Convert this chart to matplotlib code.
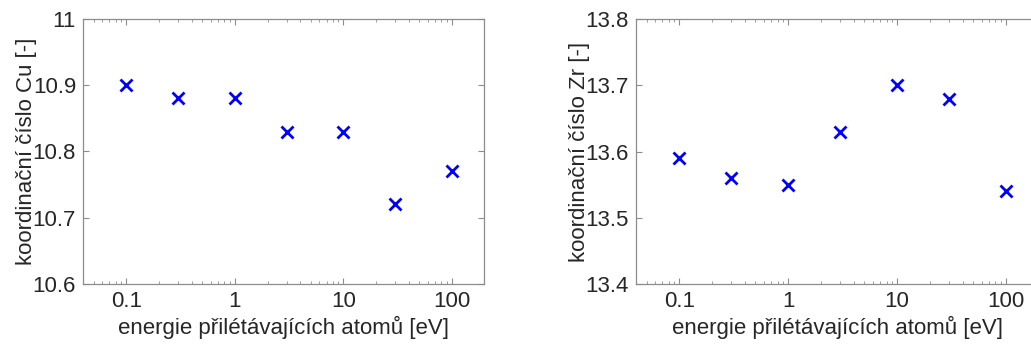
import matplotlib
matplotlib.use("Agg")
import matplotlib.pyplot as plt
from matplotlib.ticker import FixedLocator, FixedFormatter, LogLocator, NullFormatter

plt.rcParams['font.family'] = ['Liberation Sans', 'DejaVu Sans']

energy = [0.1, 0.3, 1, 3, 10, 30, 100]
cn_cu = [10.90, 10.88, 10.88, 10.83, 10.83, 10.72, 10.77]
cn_zr = [13.59, 13.56, 13.55, 13.63, 13.70, 13.68, 13.54]

xticks = [0.1, 1, 10, 100]
xticklabels = ['0.1', '1', '10', '100']
cu_yticks = [10.6, 10.7, 10.8, 10.9, 11.0]
cu_yticklabels = ['10.6', '10.7', '10.8', '10.9', '11']
zr_yticks = [13.4, 13.5, 13.6, 13.7, 13.8]
zr_yticklabels = ['13.4', '13.5', '13.6', '13.7', '13.8']

xlabel = 'energie přilétávajících atomů [eV]'
ylabels = ['koordinační číslo Cu [-]', 'koordinační číslo Zr [-]']

fig = plt.figure(figsize=(10.31, 3.45), dpi=100)
W, H = 1031, 345
ax1 = fig.add_axes([83 / W, (345 - 284) / H, 401 / W, 265 / H])
ax2 = fig.add_axes([636 / W, (345 - 284) / H, 402 / W, 265 / H])

tickcol = '#262626'
spinecol = '#8c8c8c'

for ax, y, yt, ytl, yl in [(ax1, cn_cu, cu_yticks, cu_yticklabels, ylabels[0]),
                           (ax2, cn_zr, zr_yticks, zr_yticklabels, ylabels[1])]:
    ax.plot(energy, y, linestyle='none', marker='x', color='#0000ff',
            markersize=9, markeredgewidth=2)
    ax.set_xscale('log')
    ax.set_xlim(0.04, 197)
    ax.set_ylim(yt[0], yt[-1])
    ax.xaxis.set_major_locator(FixedLocator(xticks))
    ax.xaxis.set_major_formatter(FixedFormatter(xticklabels))
    ax.xaxis.set_minor_locator(LogLocator(base=10, subs=range(2, 10)))
    ax.xaxis.set_minor_formatter(NullFormatter())
    ax.yaxis.set_major_locator(FixedLocator(yt))
    ax.yaxis.set_major_formatter(FixedFormatter(ytl))
    ax.tick_params(which='both', direction='in', top=True, right=True,
                   color=spinecol, labelcolor=tickcol, labelsize=16)
    ax.tick_params(which='major', length=4, width=0.8, pad=5)
    ax.tick_params(which='minor', length=2, width=0.6)
    for s in ax.spines.values():
        s.set_color(spinecol)
        s.set_linewidth(0.9)
    ax.set_xlabel(xlabel, fontsize=16, color=tickcol, labelpad=3)
    ax.set_ylabel(yl, fontsize=16, color=tickcol, labelpad=-3)

fig.savefig('out.png', dpi=100)
